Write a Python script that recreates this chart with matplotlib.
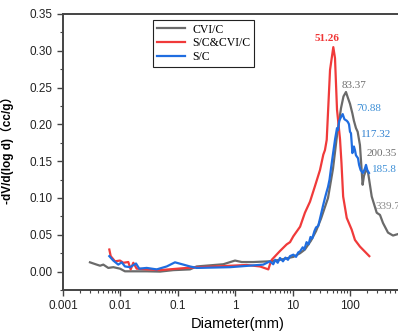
#imports for plotting
import numpy as np
import matplotlib
matplotlib.use("Agg")
import matplotlib.pyplot as plt
from matplotlib.ticker import LogLocator, FixedLocator, MultipleLocator, FuncFormatter

#pore size distribution, diameter in mm
gray_d = [0.00295, 0.00386, 0.00442, 0.00504, 0.00615, 0.00752, 0.00984, 0.0120, 0.0287, 0.049,
          0.0836, 0.163, 0.213, 0.621, 0.993, 1.30, 2.07, 4.04, 6.0, 10.3, 13.5, 16.4, 20.9, 25.6,
          31.3, 41.4, 50.6, 59.4, 69.7, 77, 85.1, 92, 100, 110, 117, 127, 136, 149, 166, 175, 190,
          206, 239, 292, 333, 376, 459, 561, 686]
gray_v = [0.0126, 0.0095, 0.008, 0.0095, 0.005, 0.006, 0.004, 0.0004, 0.0004, 0.0,
          0.002, 0.003, 0.007, 0.010, 0.015, 0.013, 0.013, 0.014, 0.016, 0.020, 0.025, 0.030, 0.042, 0.055,
          0.072, 0.100, 0.140, 0.185, 0.222, 0.238, 0.244, 0.236, 0.228, 0.215, 0.205, 0.195, 0.190, 0.172,
          0.118, 0.130, 0.138, 0.135, 0.102, 0.080, 0.077, 0.066, 0.053, 0.049, 0.051]

red_d = [0.00641, 0.00678, 0.00805, 0.00984, 0.01125, 0.01374, 0.0151, 0.0168, 0.0192, 0.0287,
         0.049, 0.143, 0.244, 1.58, 2.70, 3.78, 4.04, 4.33, 6.03, 7.89, 9.02, 10.3, 13.5, 16.4,
         20.1, 24.5, 30.0, 34.3, 36.6, 39.3, 44.9, 51.2, 54.8, 59.4, 67.0, 71, 76, 87.7, 107,
         122, 149, 217]
red_v = [0.030, 0.021, 0.014, 0.015, 0.012, 0.013, 0.003, 0.012, 0.004, 0.003,
         0.002, 0.005, 0.006, 0.009, 0.007, 0.003, 0.010, 0.016, 0.028, 0.037, 0.040, 0.048, 0.061, 0.080,
         0.095, 0.116, 0.138, 0.159, 0.165, 0.179, 0.274, 0.305, 0.290, 0.220, 0.180, 0.148, 0.102, 0.073, 0.057,
         0.043, 0.034, 0.021]

blue_d = [0.00641, 0.00752, 0.00918, 0.01054, 0.01202, 0.01469, 0.0187, 0.0213, 0.0287, 0.0429,
          0.0641, 0.0893, 0.125, 0.163, 0.213, 0.811, 3.09, 4.04, 4.6, 5.0, 5.5, 6.03, 6.8, 7.5, 8.3,
          9.0, 10.3, 11.5, 12.5, 13.5, 15, 16, 17.5, 19, 20.5, 22, 24, 25.6, 28, 31.3, 34, 36.6, 39,
          41.4, 44, 47, 50.6, 55, 59.4, 61.8, 65, 69.7, 74.6, 80, 87.7, 92.3, 96.2, 100, 104, 107,
          110, 117, 122, 127, 138, 144, 153, 168, 182, 190, 200, 214]
blue_v = [0.021, 0.015, 0.0095, 0.0126, 0.007, 0.006, 0.011, 0.004, 0.005, 0.003,
          0.007, 0.0126, 0.0095, 0.007, 0.005, 0.006, 0.0095, 0.014, 0.010, 0.016, 0.012, 0.0185, 0.014, 0.019, 0.016,
          0.021, 0.023, 0.020, 0.026, 0.0275, 0.033, 0.030, 0.040, 0.037, 0.047, 0.045, 0.055, 0.060, 0.062, 0.078,
          0.090, 0.100, 0.108, 0.115, 0.125, 0.142, 0.160, 0.180, 0.195, 0.192, 0.205, 0.210, 0.214, 0.207, 0.205,
          0.203, 0.200, 0.190, 0.188, 0.175, 0.161, 0.170, 0.165, 0.158, 0.154, 0.145, 0.138, 0.134, 0.140, 0.145,
          0.138, 0.134]

#peak labels: text, diameter, value, colour
peak_text = ["51.26", "83.37", "70.88", "117.32", "200.35", "185.8", "339.7"]
peak_d = [24.5, 71.6, 127, 153, 195, 245, 281]
peak_v = [0.317, 0.253, 0.221, 0.186, 0.160, 0.139, 0.089]
peak_c = ["#f03535", "#6e6e6e", "#3d8fd6", "#2f80d0", "#6e6e6e", "#3d8fd6", "#8a8a8a"]

fig = plt.figure(figsize=(3.98, 3.31), dpi=100)
ax = fig.add_axes([63 / 398, 41 / 331, 335 / 398, 276 / 331])

ax.plot(gray_d, gray_v, color="#6a6a6a", lw=1.6, label="CVI/C")
ax.plot(red_d, red_v, color="#f03a3a", lw=1.6, label="S/C&CVI/C")
ax.plot(blue_d, blue_v, color="#1f6de0", lw=1.6, label="S/C")

for t, d, v, c in zip(peak_text, peak_d, peak_v, peak_c):
    ax.text(d, v, t, color=c, fontsize=8, family="Liberation Serif", ha="left", va="center",
            fontweight="bold" if t == "51.26" else "normal")

ax.set_xscale("log")
ax.set_xlim(0.001, 686)
ax.set_ylim(-0.025, 0.35)

ax.xaxis.set_major_locator(FixedLocator([0.001, 0.01, 0.1, 1, 10, 100]))
ax.xaxis.set_major_formatter(FuncFormatter(lambda x, p: "%g" % x))
ax.xaxis.set_minor_locator(LogLocator(base=10, subs=np.arange(2, 10)))
ax.yaxis.set_major_locator(MultipleLocator(0.05))
ax.yaxis.set_minor_locator(MultipleLocator(0.025))
ax.yaxis.set_major_formatter(FuncFormatter(lambda y, p: "%.2f" % y))

for s in ["left", "bottom", "top"]:
    ax.spines[s].set_color("#444444")
    ax.spines[s].set_linewidth(1.4)
ax.spines["right"].set_visible(False)

ax.tick_params(which="major", direction="out", length=4, width=1, color="#444444",
               labelsize=8.5, labelcolor="#222222")
ax.tick_params(which="minor", direction="out", length=2.5, width=0.8, color="#444444")
for lab in ax.get_xticklabels() + ax.get_yticklabels():
    lab.set_family("Liberation Sans")

ax.set_xlabel("Diameter(mm)", fontsize=10.5, family="Liberation Sans", va="center")
ax.xaxis.set_label_coords(0.522, -0.124)
ax.set_ylabel("-dV/d(log d)（cc/g）", fontsize=8.5, fontweight="bold",
              family=["Liberation Sans", "Noto Sans CJK SC"])
ax.yaxis.set_label_coords(-0.146, 0.518)

leg = ax.legend(loc="upper left", bbox_to_anchor=(0.27, 0.978), fancybox=False,
                edgecolor="#222222", framealpha=1, handlelength=2.4, labelspacing=0.15,
                borderpad=0.3, handletextpad=0.6, borderaxespad=0,
                prop={"family": "Liberation Serif", "size": 8.5})
leg.get_frame().set_linewidth(0.8)

fig.savefig("out.png", dpi=100)
